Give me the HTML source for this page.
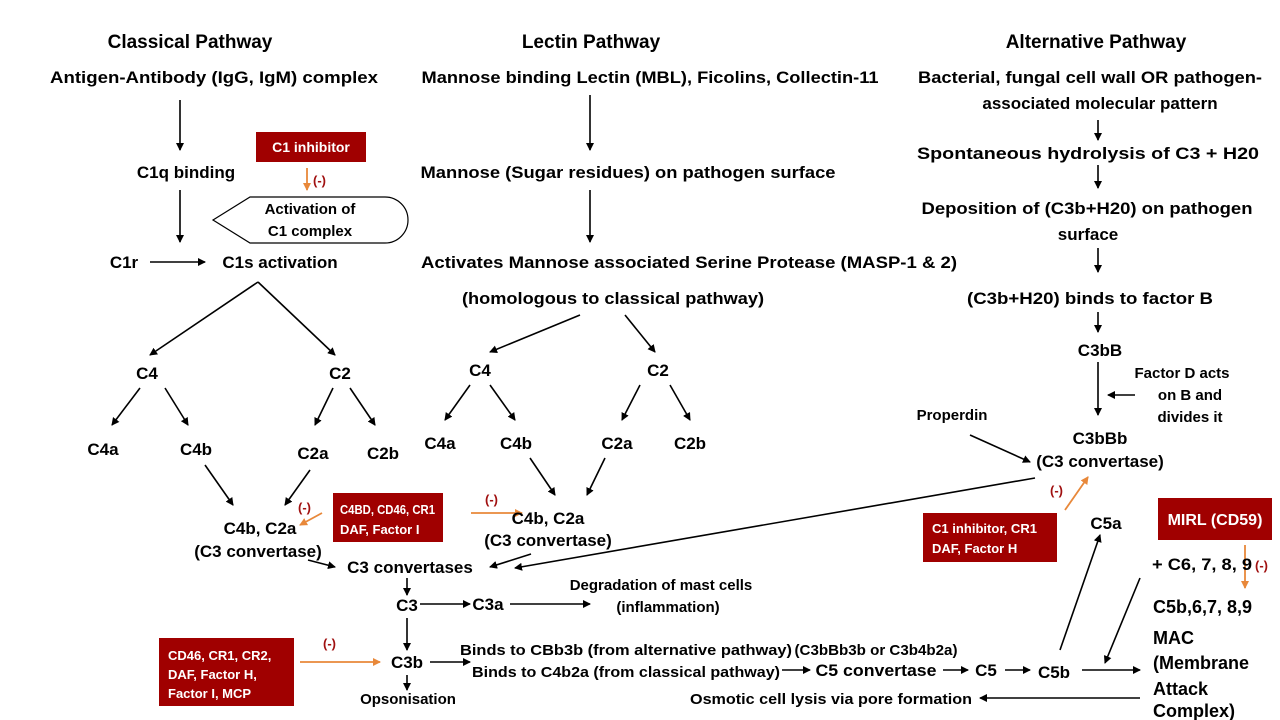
<!DOCTYPE html>
<html><head><meta charset="utf-8"><style>
html,body{margin:0;padding:0;background:#fff}
svg{display:block}
text{font-family:"Liberation Sans",sans-serif;font-weight:bold;font-size:17px;fill:#000}
.t{font-size:19px}
.w{fill:#fff;font-size:13px}
.m{fill:#a01010;font-size:13px}
</style></head><body>
<svg width="1280" height="720" viewBox="0 0 1280 720" xmlns="http://www.w3.org/2000/svg">
<defs>
<marker id="a" markerWidth="8" markerHeight="8" refX="7" refY="4" orient="auto" markerUnits="userSpaceOnUse"><path d="M0,0 L8,4 L0,8 z" fill="#000"/></marker>
<marker id="o" markerWidth="8" markerHeight="8" refX="7" refY="4" orient="auto" markerUnits="userSpaceOnUse"><path d="M0,0 L8,4 L0,8 z" fill="#e8883a"/></marker>
</defs>
<g stroke="#000" stroke-width="1.6" fill="none" marker-end="url(#a)">
<line x1="180" y1="100" x2="180" y2="150"/>
<line x1="180" y1="190" x2="180" y2="242"/>
<line x1="150" y1="262" x2="205" y2="262"/>
<line x1="590" y1="95" x2="590" y2="150"/>
<line x1="590" y1="190" x2="590" y2="242"/>
<line x1="1098" y1="120" x2="1098" y2="140"/>
<line x1="1098" y1="165" x2="1098" y2="188"/>
<line x1="1098" y1="248" x2="1098" y2="272"/>
<line x1="1098" y1="312" x2="1098" y2="332"/>
<line x1="1098" y1="362" x2="1098" y2="415"/>
<line x1="1135" y1="395" x2="1108" y2="395"/>
<line x1="970" y1="435" x2="1030" y2="462"/>
<line x1="258" y1="282" x2="150" y2="355"/>
<line x1="258" y1="282" x2="335" y2="355"/>
<line x1="140" y1="388" x2="112" y2="425"/>
<line x1="165" y1="388" x2="188" y2="425"/>
<line x1="333" y1="388" x2="315" y2="425"/>
<line x1="350" y1="388" x2="375" y2="425"/>
<line x1="205" y1="465" x2="233" y2="505"/>
<line x1="310" y1="470" x2="285" y2="505"/>
<line x1="580" y1="315" x2="490" y2="352"/>
<line x1="625" y1="315" x2="655" y2="352"/>
<line x1="470" y1="385" x2="445" y2="420"/>
<line x1="490" y1="385" x2="515" y2="420"/>
<line x1="640" y1="385" x2="622" y2="420"/>
<line x1="670" y1="385" x2="690" y2="420"/>
<line x1="530" y1="458" x2="555" y2="495"/>
<line x1="605" y1="458" x2="587" y2="495"/>
<line x1="308" y1="560" x2="335" y2="567"/>
<line x1="531" y1="554" x2="490" y2="567"/>
<line x1="1035" y1="478" x2="515" y2="568"/>
<line x1="407" y1="578" x2="407" y2="595"/>
<line x1="420" y1="604" x2="470" y2="604"/>
<line x1="510" y1="604" x2="590" y2="604"/>
<line x1="407" y1="618" x2="407" y2="650"/>
<line x1="407" y1="675" x2="407" y2="690"/>
<line x1="430" y1="662" x2="470" y2="662"/>
<line x1="782" y1="670" x2="810" y2="670"/>
<line x1="943" y1="670" x2="968" y2="670"/>
<line x1="1005" y1="670" x2="1030" y2="670"/>
<line x1="1082" y1="670" x2="1140" y2="670"/>
<line x1="1060" y1="650" x2="1100" y2="535"/>
<line x1="1140" y1="578" x2="1105" y2="663"/>
<line x1="1140" y1="698" x2="980" y2="698"/>
</g>
<g stroke="#e8883a" stroke-width="1.8" fill="none" marker-end="url(#o)">
<line x1="307" y1="168" x2="307" y2="190"/>
<line x1="322" y1="513" x2="300" y2="525"/>
<line x1="471" y1="513" x2="522" y2="513"/>
<line x1="300" y1="662" x2="380" y2="662"/>
<line x1="1065" y1="510" x2="1088" y2="477"/>
<line x1="1245" y1="545" x2="1245" y2="588"/>
</g>
<path d="M213,220 L250,197 L385,197 A23,23 0 0 1 385,243 L250,243 Z" fill="#fff" stroke="#000" stroke-width="1.2"/>
<g fill="#a00000">
<rect x="256" y="132" width="110" height="30"/>
<rect x="333" y="493" width="110" height="49"/>
<rect x="159" y="638" width="135" height="68"/>
<rect x="923" y="513" width="134" height="49"/>
<rect x="1158" y="498" width="114" height="42"/>
</g>
<g lengthAdjust="spacingAndGlyphs">
<text class="w" x="311" y="152" text-anchor="middle" style="font-size:14px">C1 inhibitor</text>
<text class="w" x="340" y="514" textLength="95" lengthAdjust="spacingAndGlyphs">C4BD, CD46, CR1</text>
<text class="w" x="340" y="534">DAF, Factor I</text>
<text class="w" x="168" y="660">CD46, CR1, CR2,</text>
<text class="w" x="168" y="679">DAF, Factor H,</text>
<text class="w" x="168" y="698">Factor I, MCP</text>
<text class="w" x="932" y="533" textLength="105" lengthAdjust="spacingAndGlyphs">C1 inhibitor, CR1</text>
<text class="w" x="932" y="553">DAF, Factor H</text>
<text class="w" x="1215" y="525" text-anchor="middle" style="font-size:16px">MIRL (CD59)</text>
</g>
<text class="m" x="313" y="185">(-)</text>
<text class="m" x="298" y="512">(-)</text>
<text class="m" x="485" y="504">(-)</text>
<text class="m" x="323" y="648">(-)</text>
<text class="m" x="1050" y="495">(-)</text>
<text class="m" x="1255" y="570">(-)</text>
<g text-anchor="middle">
<text class="t" x="190" y="48">Classical Pathway</text>
<text class="t" x="591" y="48">Lectin Pathway</text>
<text class="t" x="1096" y="48">Alternative Pathway</text>
<text x="214" y="83" textLength="328" lengthAdjust="spacingAndGlyphs">Antigen-Antibody (IgG, IgM) complex</text>
<text x="650" y="83" textLength="457" lengthAdjust="spacingAndGlyphs">Mannose binding Lectin (MBL), Ficolins, Collectin-11</text>
<text x="1090" y="83" textLength="344" lengthAdjust="spacingAndGlyphs">Bacterial, fungal cell wall OR pathogen-</text>
<text x="1100" y="109">associated molecular pattern</text>
<text x="186" y="178">C1q binding</text>
<text x="310" y="214" style="font-size:15px">Activation of</text>
<text x="310" y="236" style="font-size:15px">C1 complex</text>
<text x="124" y="268">C1r</text>
<text x="280" y="268">C1s activation</text>
<text x="628" y="178" textLength="415" lengthAdjust="spacingAndGlyphs">Mannose (Sugar residues) on pathogen surface</text>
<text x="689" y="268" textLength="536" lengthAdjust="spacingAndGlyphs">Activates Mannose associated Serine Protease (MASP-1 &amp; 2)</text>
<text x="613" y="304" textLength="302" lengthAdjust="spacingAndGlyphs">(homologous to classical pathway)</text>
<text x="1088" y="159" textLength="342" lengthAdjust="spacingAndGlyphs">Spontaneous hydrolysis of C3 + H20</text>
<text x="1087" y="214" textLength="331" lengthAdjust="spacingAndGlyphs">Deposition of (C3b+H20) on pathogen</text>
<text x="1088" y="240">surface</text>
<text x="1090" y="304" textLength="246" lengthAdjust="spacingAndGlyphs">(C3b+H20) binds to factor B</text>
<text x="1100" y="356">C3bB</text>
<text x="1182" y="378" style="font-size:15px">Factor D acts</text>
<text x="1190" y="400" style="font-size:15px">on B and</text>
<text x="1190" y="422" style="font-size:15px">divides it</text>
<text x="952" y="420" style="font-size:15px">Properdin</text>
<text x="1100" y="444">C3bBb</text>
<text x="1100" y="467">(C3 convertase)</text>
<text x="147" y="379">C4</text>
<text x="340" y="379">C2</text>
<text x="103" y="455">C4a</text>
<text x="196" y="455">C4b</text>
<text x="313" y="459">C2a</text>
<text x="383" y="459">C2b</text>
<text x="260" y="534">C4b, C2a</text>
<text x="258" y="557">(C3 convertase)</text>
<text x="480" y="376">C4</text>
<text x="658" y="376">C2</text>
<text x="440" y="449">C4a</text>
<text x="516" y="449">C4b</text>
<text x="617" y="449">C2a</text>
<text x="690" y="449">C2b</text>
<text x="548" y="524">C4b, C2a</text>
<text x="548" y="546">(C3 convertase)</text>
<text x="410" y="573">C3 convertases</text>
<text x="407" y="611">C3</text>
<text x="488" y="610">C3a</text>
<text x="661" y="590" style="font-size:15px">Degradation of mast cells</text>
<text x="668" y="612" style="font-size:15px">(inflammation)</text>
<text x="407" y="668">C3b</text>
<text x="408" y="704" style="font-size:15px">Opsonisation</text>
<text x="626" y="655" style="font-size:15px" textLength="332" lengthAdjust="spacingAndGlyphs">Binds to CBb3b (from alternative pathway)</text>
<text x="626" y="677" style="font-size:15px" textLength="308" lengthAdjust="spacingAndGlyphs">Binds to C4b2a (from classical pathway)</text>
<text x="876" y="655" style="font-size:15px" textLength="163" lengthAdjust="spacingAndGlyphs">(C3bBb3b or C3b4b2a)</text>
<text x="876" y="676" textLength="121" lengthAdjust="spacingAndGlyphs">C5 convertase</text>
<text x="986" y="676">C5</text>
<text x="1054" y="678">C5b</text>
<text x="1106" y="529">C5a</text>
<text x="1202" y="570" textLength="100" lengthAdjust="spacingAndGlyphs">+ C6, 7, 8, 9</text>
<text x="831" y="704" style="font-size:15px" textLength="282" lengthAdjust="spacingAndGlyphs">Osmotic cell lysis via pore formation</text>
</g>
<text x="1153" y="613" style="font-size:18px">C5b,6,7, 8,9</text>
<text x="1153" y="644" style="font-size:18px">MAC</text>
<text x="1153" y="669" style="font-size:18px">(Membrane</text>
<text x="1153" y="695" style="font-size:18px">Attack</text>
<text x="1153" y="717" style="font-size:18px">Complex)</text>
</svg>
</body></html>
